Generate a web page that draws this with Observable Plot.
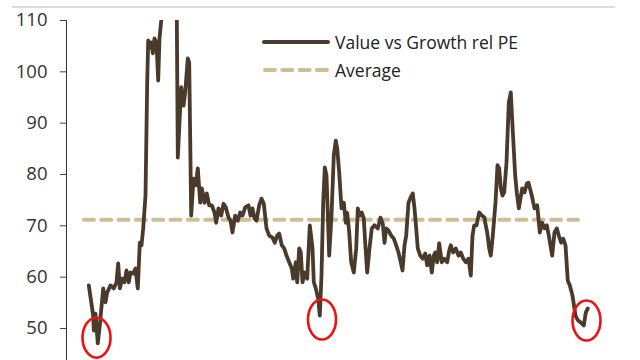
<!DOCTYPE html>
<html><head><meta charset="utf-8">
<script src="https://cdn.jsdelivr.net/npm/d3@7"></script>
<script src="https://cdn.jsdelivr.net/npm/@observablehq/plot@0.6"></script>
<style>
html,body{margin:0;padding:0;background:#fff;}
#wrap{position:relative;width:640px;height:360px;overflow:hidden;font-family:"Open Sans",sans-serif;}
#topline{position:absolute;left:12px;top:6px;width:603px;height:2px;background:#dcdcdc;}
#legend{position:absolute;left:262px;top:28px;font-size:17.5px;color:#222;}
#legend .row{display:flex;align-items:center;height:28px;}
#legend svg{margin-right:5px;}
</style></head><body><div id="wrap"><div id="topline"></div><div id="legend"></div></div>
<script>
// period index (relative time) and relative PE values
const period = [0.3,4.7,5.3,7,9.3,11.3,14.7,17,18.7,22,25.3,28,29.7,31.3,33.7,36,38,40.3,42,44.7,47,49.3,51.3,53,54.7,57,58.7,59.7,61.3,63,64.3,66,68,69.7,71,73,77,84,88.3,89.3,92.7,95,96.7,99.3,100.7,102.7,105,107.3,109.3,111.7,113.3,116,118.3,120.7,123.3,126,127.7,130,132.7,135,137.3,140,142,144,146.7,149.3,151.7,154,156.7,160,162,164,166,168,170.7,173,175.3,178,180.7,184,186.3,188.7,190.7,193.3,195.7,198,200.7,203.3,204.7,207.3,208.7,210.7,212.3,214,216.3,218.7,221.3,224,225.3,227.3,229.7,231.3,233,234.7,236.3,238,240.7,243,245.3,247.3,248.7,250.7,253,255.3,257.3,258.7,260.7,262.7,265.3,267.7,269.3,271,273.3,275.3,276.7,278.7,281,283.3,286,289.3,292,294.3,296,297.7,300,302.7,305.3,307.7,310,312.3,314,316,317.7,320,322,324.3,326,327.7,329.3,331.7,334.3,336.7,338.7,341,343.3,345.3,346.7,348.7,350.7,353.3,355.7,358.7,360.7,362.3,364.7,367.3,370,372.3,374.7,377.3,380,382.3,384,385.7,388,390.7,393.3,396,396.7,398.7,400.7,402.3,404.3,407,409,410.7,412.3,414,415.7,418,420.3,422.3,424,426.7,428.3,430.3,433.7,436,438.3,440,443.3,446,448.7,451.3,453.7,456,458.3,460.3,463.7,466,468.3,470.3,472.7,474.7,477,479.3,481.3,484,487,489.3,492,495.3,497.3,499.3,502];
const relPE = [58.4,52.5,49.6,52.9,47.1,50.6,57.8,55.1,57,58.4,57.8,59,62.7,57.8,59.7,59,61.3,59,60.9,60.7,61.7,57.8,66.7,66.2,69.5,75.9,97.9,106.1,104.7,105.7,103.6,106.5,105.7,98.3,106.5,110.5,120,118,111,83.3,97,93.4,96,102.6,101.8,72,79.2,77.9,81.2,74.5,77.3,74.5,76.3,74,74,72.6,70.6,73.4,72,74.3,73.6,71.6,71,68.7,72,71,72.6,72,73.6,74,72,73.4,71.4,71,74,75.3,74.3,69.5,68.1,67.7,66.7,68.1,68.5,66.2,65.6,64.2,62.9,61.7,59.7,62.9,59,65.6,64.8,59,60.9,59.7,70.1,65.6,59,57.8,55.8,52.5,60.3,74.5,81.4,79.8,64.2,72,83.7,86.6,85.1,80.4,73.4,74.5,70.6,72.5,68.7,62.9,60.9,65.6,73.4,72,72.6,71.4,66.7,60.9,65.6,69.5,70.1,69.5,71.6,70.4,66.7,69.5,69.1,68.1,67.5,66.2,64.8,62.9,61.3,66.2,68.1,74.5,75.5,76.3,73.4,69.5,65.6,64.2,63.6,64.6,62.3,64.2,60.9,64.2,64.8,62.9,66.6,62.9,63.6,62.9,65.2,66.2,64.8,65.6,64.2,64.8,63.6,62.9,63.6,60.3,68.1,70.1,70.1,72.6,72,71.6,70.6,68.7,65.6,64.2,68.1,74.5,81.8,81.2,77.3,75.9,76.5,82.3,94,96,89.5,79.8,76.5,73.4,77.3,76.5,78.2,78.4,75.9,73.4,74,68.7,70.6,69.5,70.1,68.1,64.2,68.7,69.5,68.1,66.7,67.5,66.2,59.3,58.4,56.4,52.5,51.6,51.2,50.6,53.1,53.9];
const seriesName = "Value vs Growth rel PE";
const averageName = "Average";
const averageValue = 71.2;
const averageSpan = [-4, 490];
const lowPeriods = [8, 233.5, 498];
const lowValues = [48.2, 51.75, 51.55];
const yTicks = [50, 60, 70, 80, 90, 100, 110];
const yDomain = [43.76, 110];
const xDomain = [-22, 527];

const lineColor = "#4a3a2c";
const avgColor = "#cfbd96";

const n = Math.min(period.length, relPE.length);
const series = Array.from({length: n}, (_, i) => ({t: period[i], v: relPE[i]}));
const lows = lowPeriods.map((t, i) => ({t, v: lowValues[i]}));
const avg = [{x1: averageSpan[0], x2: averageSpan[1], y: averageValue}];

const svg = Plot.plot({
  width: 640,
  height: 360,
  marginLeft: 66,
  marginRight: 25,
  marginTop: 20,
  marginBottom: 0,
  style: {fontFamily: "'Open Sans', sans-serif", fontSize: "18.5px", color: "#333", background: "transparent", overflow: "visible"},
  x: {domain: xDomain, axis: null},
  y: {domain: yDomain, ticks: yTicks, tickSize: 6, tickPadding: 13, line: true, label: null},
  marks: [
    Plot.ruleY(avg, {x1: "x1", x2: "x2", y: "y", stroke: avgColor, strokeWidth: 4, strokeDasharray: "10,7.3", strokeLinecap: "round"}),
    Plot.line(series, {x: "t", y: "v", stroke: lineColor, strokeWidth: 3.8, strokeLinejoin: "round", clip: true}),
    Plot.dot(lows, {x: "t", y: "v", r: 17, stroke: "#ee1111", strokeWidth: 2.6, fill: "none"})
  ]
});

// turn the highlight rings into tall ellipses
d3.select(svg).selectAll('g[aria-label="dot"] circle').each(function() {
  const c = d3.select(this);
  let cx = c.attr("cx"), cy = c.attr("cy");
  if (cx == null) {
    const m = /translate\(([-\d.]+),\s*([-\d.]+)\)/.exec(c.attr("transform") || "");
    if (m) { cx = m[1]; cy = m[2]; }
  }
  d3.select(this.parentNode).append("ellipse").attr("cx", cx).attr("cy", cy).attr("rx", 14).attr("ry", 20);
  c.remove();
});
d3.select(svg).selectAll('g[aria-label="y-axis"] path, g[aria-label="y-axis tick"] path').attr("stroke", "#444");

document.getElementById("wrap").appendChild(svg);
svg.style.position = "absolute";
svg.style.left = "0";
svg.style.top = "0";

// legend
const legend = d3.select("#legend");
const r1 = legend.append("div").attr("class", "row");
const s1 = r1.append("svg").attr("width", 68).attr("height", 10);
s1.append("line").attr("x1", 2).attr("x2", 66).attr("y1", 5).attr("y2", 5).attr("stroke", lineColor).attr("stroke-width", 4).attr("stroke-linecap", "round");
r1.append("span").text(seriesName);
const r2 = legend.append("div").attr("class", "row");
const s2 = r2.append("svg").attr("width", 68).attr("height", 10);
s2.append("line").attr("x1", 3).attr("x2", 65).attr("y1", 5).attr("y2", 5).attr("stroke", avgColor).attr("stroke-width", 4).attr("stroke-dasharray", "10,7.3").attr("stroke-linecap", "round");
r2.append("span").text(averageName);
</script></body></html>
